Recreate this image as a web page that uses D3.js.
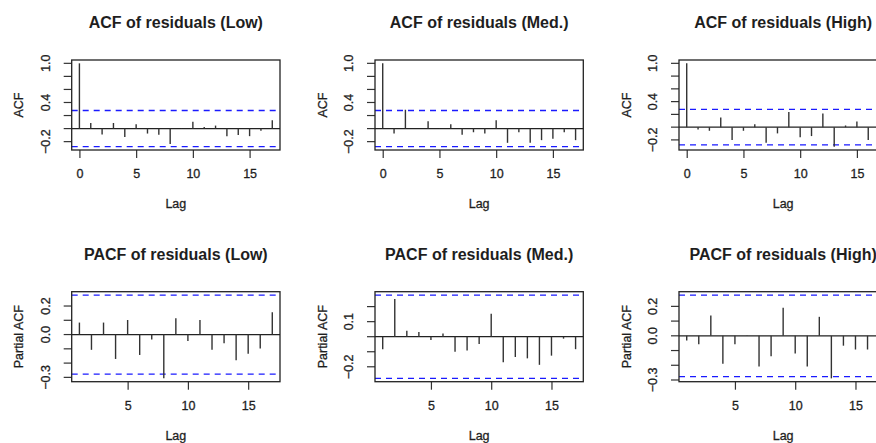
<!DOCTYPE html>
<meta charset="utf-8">
<style>
body { margin: 0; background: #fff; }
svg { display: block; }
text { font-family: "Liberation Sans", Arial, Helvetica, sans-serif; fill: #1e1e1e; }
.title { font-size: 16px; font-weight: 700; }
.tick text, .ylab, .xtitle, .ytitle { font-size: 12.5px; stroke: #1e1e1e; stroke-width: 0.3px; }
</style>
<body>
<script src="https://cdn.jsdelivr.net/npm/d3@7"></script>
<script>

// ACF values, lag 0..17 (High is cut off at the right edge after lag 16)
const acfLags = d3.range(0, 18);
const acfLow  = [1, 0.086, -0.09, 0.086, -0.127, 0.066, -0.076, -0.096, -0.238, 0.004, 0.106, 0.025, 0.046, -0.116, -0.10, -0.116, -0.035, 0.127];
const acfMed  = [1, -0.076, 0.289, 0.003, 0.111, 0.004, 0.066, -0.096, -0.056, -0.076, 0.127, -0.218, -0.056, -0.218, -0.177, -0.157, -0.056, -0.177];
const acfHigh = [1, -0.036, -0.057, 0.15, -0.20, -0.057, 0.047, -0.244, -0.098, 0.238, -0.16, -0.14, 0.212, -0.306, 0.026, 0.088, -0.20];

// PACF values, lag 1..17
const pacfLags = d3.range(1, 18);
const pacfLow  = [0.084, -0.107, 0.084, -0.171, 0.102, -0.143, -0.034, -0.307, 0.114, -0.046, 0.102, -0.107, -0.061, -0.18, -0.134, -0.098, 0.157];
const pacfMed  = [-0.083, 0.25, 0.039, 0.031, -0.022, 0.022, -0.10, -0.092, -0.048, 0.153, -0.17, -0.135, -0.144, -0.187, -0.126, -0.013, -0.083];
const pacfHigh = [-0.031, -0.058, 0.138, -0.19, -0.058, 0.002, -0.209, -0.138, 0.19, -0.12, -0.209, 0.129, -0.289, -0.067, -0.093, -0.093];

const confLimit = 0.277;

const acfYTicks = [-0.2, 0, 0.2, 0.4, 0.6, 0.8, 1.0];
const acfYLabels = [1.0, 0.4, -0.2];
const pacfYTicks = [-0.3, -0.2, -0.1, 0, 0.1, 0.2];
const pacfYLabels = [0.2, 0, -0.3];
const pacfMedYTicks = [-0.2, -0.1, 0, 0.1, 0.2];
const pacfMedYLabels = [0.1, -0.2];

const panels = [
  {title: "ACF of residuals (Low)",   ylab: "ACF", lags: acfLags, values: acfLow,  col: 0, row: 0, yTicks: acfYTicks, yLabels: acfYLabels, xTicks: [0, 5, 10, 15]},
  {title: "ACF of residuals (Med.)",  ylab: "ACF", lags: acfLags, values: acfMed,  col: 1, row: 0, yTicks: acfYTicks, yLabels: acfYLabels, xTicks: [0, 5, 10, 15]},
  {title: "ACF of residuals (High)",  ylab: "ACF", lags: acfLags, values: acfHigh, col: 2, row: 0, yTicks: acfYTicks, yLabels: acfYLabels, xTicks: [0, 5, 10, 15]},
  {title: "PACF of residuals (Low)",  ylab: "Partial ACF", lags: pacfLags, values: pacfLow,  col: 0, row: 1, yTicks: pacfYTicks, yLabels: pacfYLabels, xTicks: [5, 10, 15]},
  {title: "PACF of residuals (Med.)", ylab: "Partial ACF", lags: pacfLags, values: pacfMed,  col: 1, row: 1, yTicks: pacfMedYTicks, yLabels: pacfMedYLabels, xTicks: [5, 10, 15]},
  {title: "PACF of residuals (High)", ylab: "Partial ACF", lags: pacfLags, values: pacfHigh, col: 2, row: 1, yTicks: pacfYTicks, yLabels: pacfYLabels, xTicks: [5, 10, 15]}
];

const width = 876, height = 443;
const colLeft = [71.7, 375, 679], boxW = 208.3;
const rowTop = [60, 291.7], boxH = 90;

const svg = d3.select("body").append("svg")
    .attr("width", width)
    .attr("height", height);

// R style 4% padding on both ends
function padded(lo, hi) {
  let d = (hi - lo) * 0.04;
  return [lo - d, hi + d];
}

function fmt(v) { return d3.format(".1f")(v).replace("-", "\u2212"); }

panels.forEach(function(p) {
  let left = colLeft[p.col], top = rowTop[p.row];
  let g = svg.append("g");

  let x = d3.scaleLinear()
      .domain(padded(p.lags[0], 17))
      .range([left, left + boxW]);
  let ext = d3.extent(p.values.concat([-confLimit, confLimit]));
  let y = d3.scaleLinear()
      .domain(padded(ext[0], ext[1]))
      .range([top + boxH, top]);

  // title
  g.append("text")
      .attr("class", "title")
      .attr("x", left + boxW / 2)
      .attr("y", top - 31.7)
      .attr("text-anchor", "middle")
      .text(p.title);

  // x axis
  let xAxis = g.append("g")
      .attr("transform", "translate(0," + (top + boxH) + ")")
      .call(d3.axisBottom(x).tickValues(p.xTicks).tickSize(8).tickFormat(d3.format("d")));
  xAxis.select(".domain").remove();
  xAxis.selectAll(".tick line").attr("stroke", "#333").attr("stroke-width", 1.2);
  xAxis.selectAll(".tick text").attr("y", 28).attr("dy", 0).attr("fill", "#1e1e1e");

  g.append("text")
      .attr("class", "xtitle")
      .attr("x", left + boxW / 2)
      .attr("y", top + boxH + 58)
      .attr("text-anchor", "middle")
      .text("Lag");

  // y ticks
  g.selectAll(".ytick").data(p.yTicks).enter().append("line")
      .attr("x1", left - 8).attr("x2", left)
      .attr("y1", d => y(d)).attr("y2", d => y(d))
      .attr("stroke", "#333").attr("stroke-width", 1.2);

  g.selectAll(".ylab").data(p.yLabels).enter().append("text")
      .attr("class", "ylab")
      .attr("transform", d => "translate(" + (left - 21.7) + "," + y(d) + ")rotate(-90)")
      .attr("text-anchor", "middle")
      .text(fmt);

  g.append("text")
      .attr("class", "ytitle")
      .attr("transform", "translate(" + (left - 48.4) + "," + (top + boxH / 2) + ")rotate(-90)")
      .attr("text-anchor", "middle")
      .text(p.ylab);

  // zero line
  g.append("line")
      .attr("x1", left).attr("x2", left + boxW)
      .attr("y1", y(0)).attr("y2", y(0))
      .attr("stroke", "#222").attr("stroke-width", 1.2);

  // confidence bounds
  g.selectAll(".conf").data([confLimit, -confLimit]).enter().append("line")
      .attr("x1", left).attr("x2", left + boxW)
      .attr("y1", d => y(d)).attr("y2", d => y(d))
      .attr("stroke", "#1a1aff").attr("stroke-width", 1.3)
      .attr("stroke-dasharray", "6,5");

  // spikes
  g.selectAll(".spike").data(p.values).enter().append("line")
      .attr("x1", (d, i) => x(p.lags[i])).attr("x2", (d, i) => x(p.lags[i]))
      .attr("y1", y(0)).attr("y2", d => y(d))
      .attr("stroke", "#333").attr("stroke-width", 1.4);

  // box
  g.append("rect")
      .attr("x", left).attr("y", top)
      .attr("width", boxW).attr("height", boxH)
      .attr("fill", "none").attr("stroke", "#222").attr("stroke-width", 1.3);
});

</script>
